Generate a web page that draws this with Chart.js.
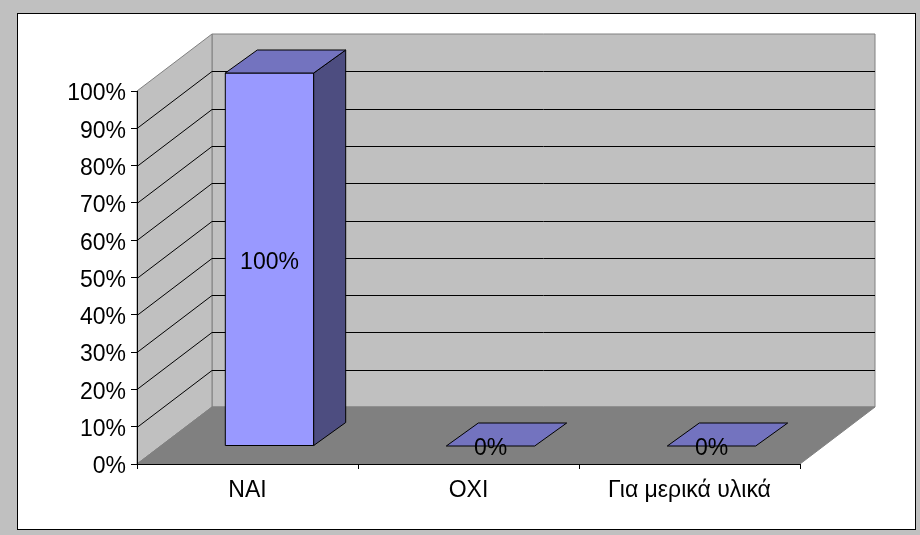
<!DOCTYPE html>
<html>
<head>
<meta charset="utf-8">
<script src="https://cdn.jsdelivr.net/npm/chart.js@4"></script>
<style>
  html, body { margin: 0; padding: 0; background: #c0c0c0; }
  canvas { display: block; }
</style>
</head>
<body>
<canvas id="chart3d" width="920" height="535"></canvas>
<script>
// --- data ---
const categories = ['ΝΑΙ', 'ΟΧΙ', 'Για μερικά υλικά'];
const shares = [1, 0, 0];
const yTicks = [0, 0.1, 0.2, 0.3, 0.4, 0.5, 0.6, 0.7, 0.8, 0.9, 1];

// depth of the 3D box (walls) and of each bar
const DEPTH = { dx: 75, dy: 57 };
const BAR_FRONT = { dx: 22, dy: 18 };
const BAR_DEPTH = { dx: 32, dy: 23 };

const FONT = '23px "Liberation Sans", Arial, sans-serif';

const pct = v => Math.round(v * 100) + '%';

function poly(c, pts, fill, stroke) {
    c.beginPath();
    c.moveTo(pts[0][0], pts[0][1]);
    for (let i = 1; i < pts.length; i++) c.lineTo(pts[i][0], pts[i][1]);
    c.closePath();
    if (fill) { c.fillStyle = fill; c.fill(); }
    if (stroke) { c.strokeStyle = stroke; c.lineWidth = 1; c.stroke(); }
}

// walls, floor and gridlines behind the bars
const walls = {
    id: 'walls',
    beforeDraw(chart) {
        const c = chart.ctx;
        const { left, right } = chart.chartArea;
        const y = chart.scales.y;
        const y0 = y.getPixelForValue(0), y1 = y.getPixelForValue(1);
        const { dx, dy } = DEPTH;

        c.save();
        c.fillStyle = '#c0c0c0';
        c.fillRect(0, 0, chart.width, chart.height);
        c.fillStyle = '#ffffff';
        c.fillRect(17, 13, 899, 517);
        c.strokeStyle = '#000000';
        c.lineWidth = 1;
        c.strokeRect(17.5, 13.5, 898, 516);

        // back wall
        poly(c, [[left + dx, y1 - dy], [right + dx, y1 - dy], [right + dx, y0 - dy], [left + dx, y0 - dy]], '#c0c0c0', '#808080');
        // side wall
        poly(c, [[left, y1], [left + dx, y1 - dy], [left + dx, y0 - dy], [left, y0]], '#c0c0c0', '#808080');
        // floor
        poly(c, [[left, y0], [left + dx, y0 - dy], [right + dx, y0 - dy], [right, y0]], '#808080', '#808080');

        // gridlines on both walls
        c.strokeStyle = '#000000';
        c.lineWidth = 1;
        yTicks.slice(1, -1).forEach(v => {
            const py = Math.round(y.getPixelForValue(v)) + 0.5;
            c.beginPath();
            c.moveTo(left, py);
            c.lineTo(left + dx, py - dy);
            c.lineTo(right + dx, py - dy);
            c.stroke();
        });
        c.restore();
    }
};

// 3D boxes on top of the (transparent) bar elements
const boxes = {
    id: 'boxes',
    afterDatasetsDraw(chart) {
        const c = chart.ctx;
        const meta = chart.getDatasetMeta(0);
        c.save();
        c.lineWidth = 1.5;
        c.lineJoin = 'round';
        meta.data.forEach((bar, i) => {
            const p = bar.getProps(['x', 'y', 'base', 'width'], true);
            const x0 = p.x - p.width / 2 + BAR_FRONT.dx;
            const x1 = p.x + p.width / 2 + BAR_FRONT.dx;
            const top = p.y - BAR_FRONT.dy;
            const bot = p.base - BAR_FRONT.dy;
            const { dx, dy } = BAR_DEPTH;

            if (bot - top > 0.5) {
                poly(c, [[x0, top], [x1, top], [x1, bot], [x0, bot]], '#9999ff', '#000000');
                poly(c, [[x1, top], [x1 + dx, top - dy], [x1 + dx, bot - dy], [x1, bot]], '#4d4d80', '#000000');
            }
            poly(c, [[x0, top], [x1, top], [x1 + dx, top - dy], [x0 + dx, top - dy]], '#7373bf', '#000000');

            c.fillStyle = '#000000';
            c.font = FONT;
            c.textAlign = 'center';
            c.textBaseline = 'middle';
            c.fillText(pct(shares[i]), (x0 + x1) / 2, (top + bot) / 2 + 3);
        });
        c.restore();
    }
};

new Chart(document.getElementById('chart3d'), {
    type: 'bar',
    data: {
        labels: categories,
        datasets: [{
            data: shares,
            backgroundColor: 'rgba(0,0,0,0)',
            borderWidth: 0,
            barPercentage: 0.4,
            categoryPercentage: 1
        }]
    },
    options: {
        responsive: false,
        animation: false,
        layout: { padding: { left: 17, right: 120, top: 91, bottom: 31 } },
        plugins: { legend: { display: false }, tooltip: { enabled: false } },
        scales: {
            x: {
                afterFit: s => { s.height = 40; },
                grid: { drawOnChartArea: false, tickLength: 5, color: '#000000' },
                border: { color: '#000000', width: 1 },
                ticks: { color: '#000000', font: { family: '"Liberation Sans", Arial, sans-serif', size: 23 }, padding: 8 }
            },
            y: {
                min: 0,
                max: 1,
                afterFit: s => { s.width = 120; },
                afterBuildTicks: s => { s.ticks = yTicks.map(v => ({ value: v })); },
                grid: { drawOnChartArea: false, tickLength: 6, color: '#000000' },
                border: { color: '#000000', width: 1 },
                ticks: {
                    color: '#000000',
                    font: { family: '"Liberation Sans", Arial, sans-serif', size: 23 },
                    padding: 5,
                    labelOffset: 3,
                    callback: v => pct(v)
                }
            }
        }
    },
    plugins: [walls, boxes]
});
</script>
</body>
</html>
